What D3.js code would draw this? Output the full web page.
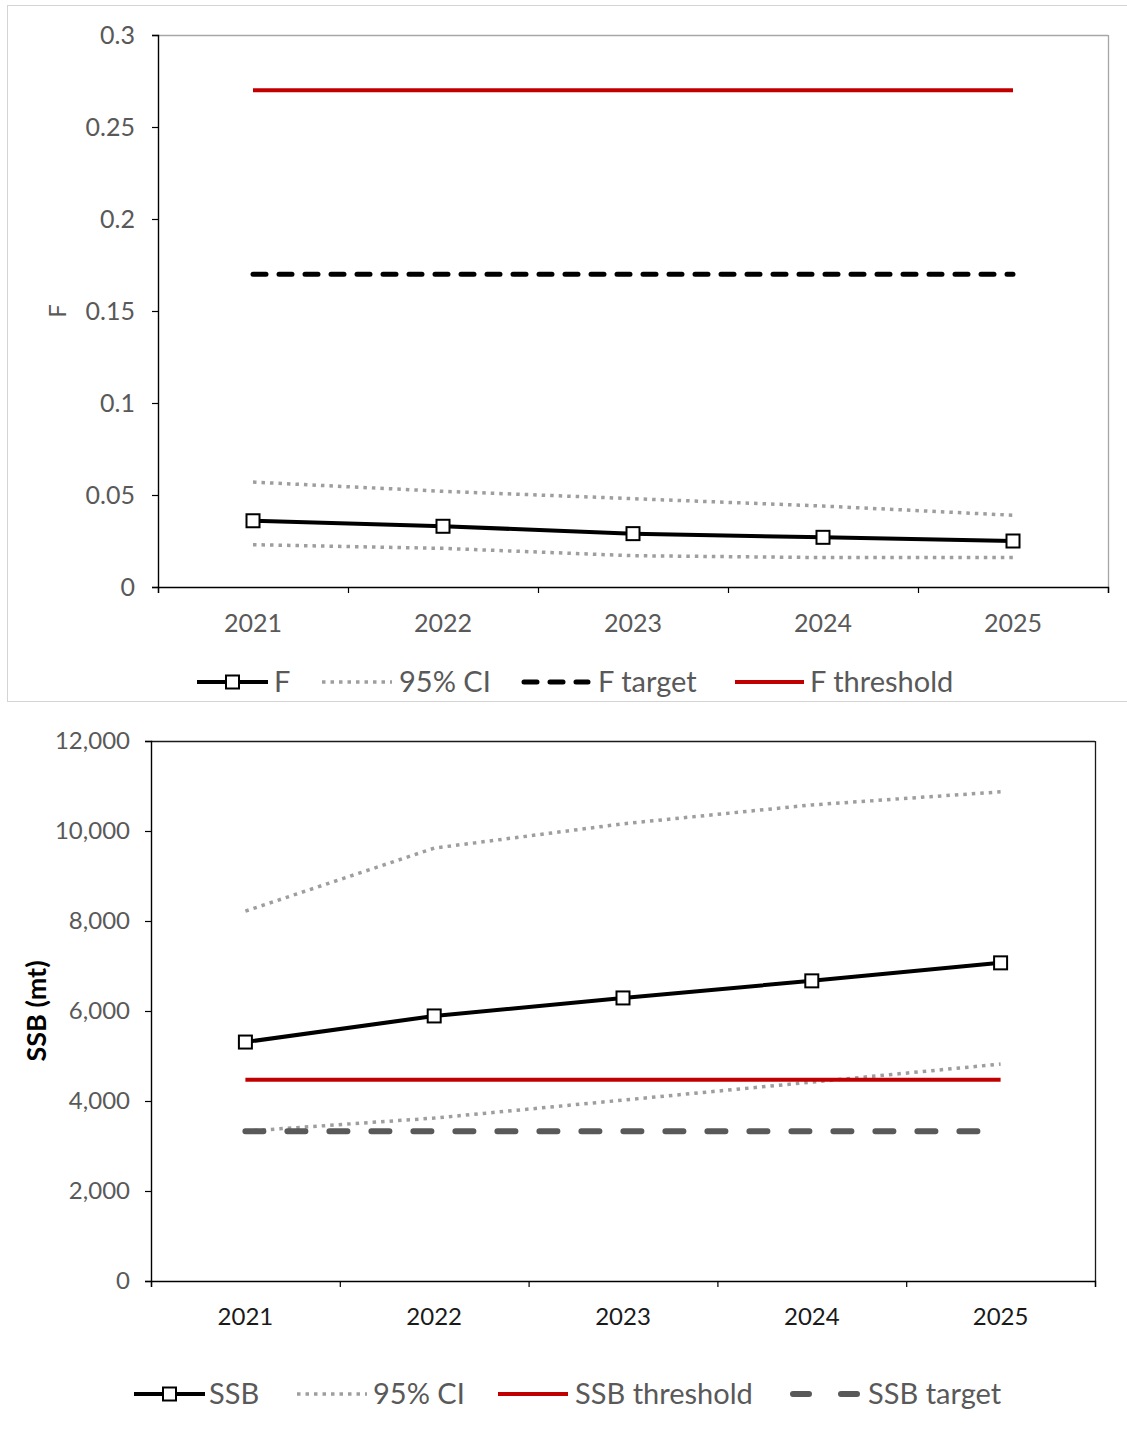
<!DOCTYPE html>
<html><head><meta charset="utf-8">
<script src="https://cdn.jsdelivr.net/npm/d3@7"></script>
<style>
html,body{margin:0;padding:0;background:#fff;}
svg{display:block;font-family:Lato,"Open Sans",sans-serif;}
</style></head>
<body>
<svg id="c" width="1127" height="1433"></svg>
<script>
// ---- data ----
const years = ["2021","2022","2023","2024","2025"];
const fValues = [0.036, 0.033, 0.029, 0.027, 0.025];
const fUpper = [0.057, 0.052, 0.048, 0.044, 0.039];
const fLower = [0.023, 0.021, 0.017, 0.016, 0.016];
const fTarget = 0.17;
const fThreshold = 0.27;
const fTicks = [0, 0.05, 0.1, 0.15, 0.2, 0.25, 0.3];

const ssbValues = [5310, 5890, 6290, 6670, 7070];
const ssbUpper = [8220, 9620, 10160, 10580, 10870];
const ssbLower = [3330, 3620, 4020, 4420, 4820];
const ssbThreshold = 4470;
const ssbTarget = 3330;
const ssbTicks = [0, 2000, 4000, 6000, 8000, 10000, 12000];

const topLegend = ["F", "95% CI", "F target", "F threshold"];
const botLegend = ["SSB", "95% CI", "SSB threshold", "SSB target"];

const svg = d3.select("#c");
const GREY_TXT = "#595959";
const RED = "#c00000";
const CI_COL = "#9e9e9e";
const CI_DASH = "3.5,5";

// outer frame of top chart
svg.append("rect").attr("x",7.5).attr("y",5.5).attr("width",1140).attr("height",696)
  .attr("fill","none").attr("stroke","#d4d4d4").attr("stroke-width",1);

function panel(o){
  const g = svg.append("g");
  const x = d3.scaleBand().domain(years).range([o.left,o.right]).paddingInner(0).paddingOuter(0);
  const xb = d3.scaleLinear().domain([0,years.length]).range([o.left,o.right]);
  const y = d3.scaleLinear().domain([0,o.ymax]).range([o.bottom,o.top]);
  const cx = d => x(d)+x.bandwidth()/2;

  // plot border top & right
  g.append("line").attr("x1",o.left).attr("x2",o.right).attr("y1",o.top+0.5).attr("y2",o.top+0.5)
    .attr("stroke",o.borderCol).attr("stroke-width",1.3);
  g.append("line").attr("x1",o.right+0.5).attr("x2",o.right+0.5).attr("y1",o.top).attr("y2",o.bottom)
    .attr("stroke",o.borderCol).attr("stroke-width",1.3);

  // y axis
  const ya = g.append("g").attr("transform",`translate(${o.left},0)`)
    .call(d3.axisLeft(y).tickValues(o.ticks).tickFormat(o.fmt).tickSize(6).tickPadding(o.yPad));
  ya.select(".domain").attr("stroke","#000").attr("stroke-width",1.4);
  ya.selectAll(".tick line").attr("stroke","#000").attr("stroke-width",1.2);
  ya.selectAll("text").attr("fill",GREY_TXT).style("font-size",o.tickFont+"px").style("font-family","Lato");

  // x axis: boundary ticks
  const xa = g.append("g").attr("transform",`translate(0,${o.bottom})`)
    .call(d3.axisBottom(xb).tickValues(d3.range(years.length+1)).tickFormat("").tickSize(6).tickSizeOuter(6));
  xa.select(".domain").attr("stroke","#000").attr("stroke-width",1.4);
  xa.selectAll(".tick line").attr("stroke","#000").attr("stroke-width",1.2);
  // x labels
  const xl = g.append("g").attr("transform",`translate(0,${o.bottom})`)
    .call(d3.axisBottom(x).tickSize(0).tickPadding(o.xPad));
  xl.select(".domain").remove();
  xl.selectAll("text").attr("fill",o.xLabCol).style("font-size",o.tickFont+"px").style("font-family","Lato");

  // y title
  g.append("text").attr("transform",`translate(${o.titleX},${(o.top+o.bottom)/2}) rotate(-90)`)
    .attr("text-anchor","middle").attr("dy","0.35em")
    .attr("fill",o.titleCol).style("font-size",o.titleFont+"px").style("font-weight",o.titleWeight)
    .text(o.title);

  const line = d3.line().x((d,i)=>cx(years[i])).y(d=>y(d));
  return {g,x,y,cx,line};
}

function drawSeries(p, s){
  s.forEach(it=>{
    const path = p.g.append("path").datum(it.values).attr("d",p.line)
      .attr("fill","none").attr("stroke",it.color).attr("stroke-width",it.width)
      .attr("stroke-linecap",it.cap||"butt").attr("stroke-linejoin","round");
    if(it.dash) path.attr("stroke-dasharray",it.dash);
    if(it.markers){
      p.g.selectAll(null).data(it.values).enter().append("rect")
        .attr("x",(d,i)=>p.cx(years[i])-6.5).attr("y",d=>p.y(d)-6.5)
        .attr("width",13).attr("height",13).attr("fill","#fff").attr("stroke","#000").attr("stroke-width",2);
    }
  });
}

function legend(items, y){
  items.forEach(it=>{
    const g = svg.append("g");
    const l = g.append("line").attr("x1",it.x1).attr("x2",it.x2).attr("y1",y).attr("y2",y)
      .attr("stroke",it.color).attr("stroke-width",it.width).attr("stroke-linecap",it.cap||"butt");
    if(it.dash) l.attr("stroke-dasharray",it.dash);
    if(it.marker){
      const m=(it.x1+it.x2)/2;
      g.append("rect").attr("x",m-6.5).attr("y",y-6.5).attr("width",13).attr("height",13)
        .attr("fill","#fff").attr("stroke","#000").attr("stroke-width",2);
    }
    g.append("text").attr("x",it.tx).attr("y",y).attr("dy","0.35em").attr("fill",GREY_TXT)
      .style("font-size","29px").text(it.label);
  });
}

// ---- top panel ----
const pt = panel({left:158,right:1108,top:35,bottom:587,ymax:0.3,ticks:fTicks,fmt:d3.format("~g"),
  borderCol:"#a6a6a6",yPad:17,xPad:27,tickFont:25,xLabCol:GREY_TXT,
  title:"F",titleX:58,titleCol:GREY_TXT,titleFont:24,titleWeight:"normal"});
drawSeries(pt,[
  {values:years.map(()=>fThreshold),color:RED,width:4},
  {values:years.map(()=>fTarget),color:"#000",width:5,dash:"13,13",cap:"round"},
  {values:fUpper,color:CI_COL,width:3.5,dash:CI_DASH},
  {values:fLower,color:CI_COL,width:3.5,dash:CI_DASH},
  {values:fValues,color:"#000",width:4,markers:true}
]);
legend([
  {x1:197,x2:268,color:"#000",width:4,marker:true,tx:274,label:topLegend[0]},
  {x1:322,x2:392,color:CI_COL,width:3.5,dash:CI_DASH,tx:399,label:topLegend[1]},
  {x1:524,x2:588,color:"#000",width:5,dash:"13,13",cap:"round",tx:598,label:topLegend[2]},
  {x1:735,x2:804,color:RED,width:4,tx:810,label:topLegend[3]}
],682);

// ---- bottom panel ----
const pb = panel({left:151,right:1095,top:741,bottom:1281,ymax:12000,ticks:ssbTicks,fmt:d3.format(","),
  borderCol:"#1a1a1a",yPad:15,xPad:27,tickFont:24,xLabCol:"#1a1a1a",
  title:"SSB (mt)",titleX:37,titleCol:"#000",titleFont:27,titleWeight:"bold"});
drawSeries(pb,[
  {values:ssbUpper,color:CI_COL,width:3.5,dash:CI_DASH},
  {values:ssbLower,color:CI_COL,width:3.5,dash:CI_DASH},
  {values:years.map(()=>ssbThreshold),color:RED,width:4},
  {values:years.map(()=>ssbTarget),color:"#595959",width:6,dash:"18,24",cap:"round"},
  {values:ssbValues,color:"#000",width:4,markers:true}
]);
legend([
  {x1:134,x2:205,color:"#000",width:4,marker:true,tx:209,label:botLegend[0]},
  {x1:297,x2:367,color:CI_COL,width:3.5,dash:CI_DASH,tx:373,label:botLegend[1]},
  {x1:498,x2:568,color:RED,width:4,tx:575,label:botLegend[2]},
  {x1:793,x2:857,color:"#595959",width:6,dash:"16,32",cap:"round",tx:868,label:botLegend[3]}
],1394);
</script>
</body></html>
